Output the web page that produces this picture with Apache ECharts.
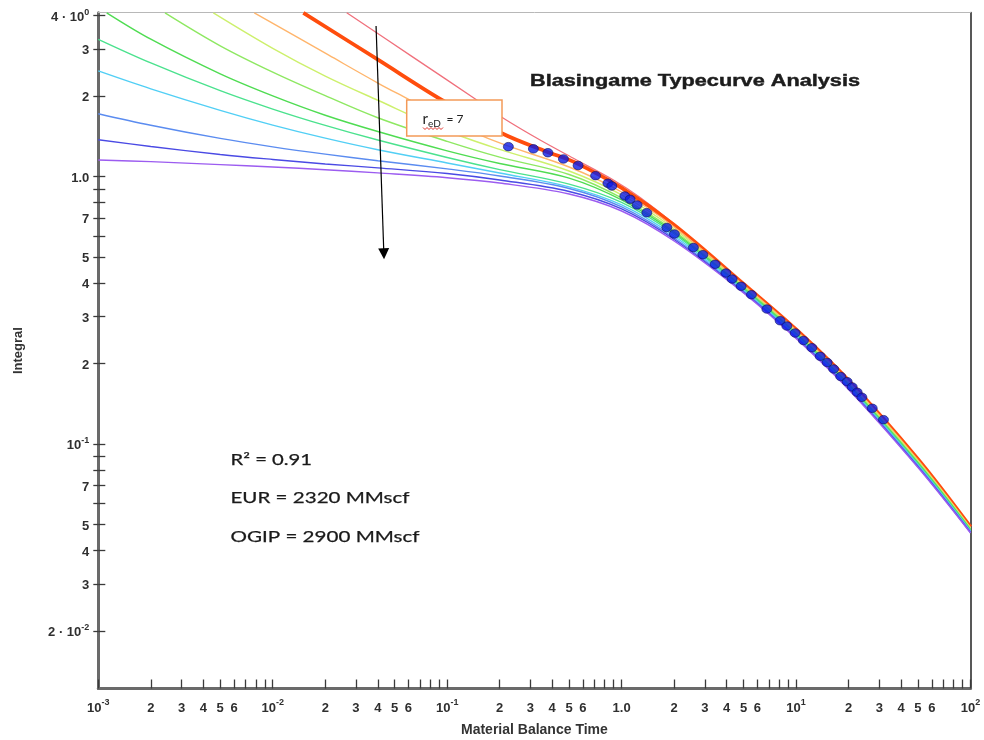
<!DOCTYPE html>
<html>
<head>
<meta charset="utf-8">
<title>Blasingame Typecurve Analysis</title>
<script src="https://cdn.jsdelivr.net/npm/echarts@6.0.0/dist/echarts.min.js"></script>
<style>
html,body{margin:0;padding:0;background:#ffffff;}
#chart{width:984px;height:740px;}
</style>
</head>
<body>
<div id="chart"></div>
<script>
// ---------------- axis ticks ----------------
const xTickValues = [0.001,0.002,0.003,0.004,0.005,0.006,0.007,0.008,0.009,
  0.01,0.02,0.03,0.04,0.05,0.06,0.07,0.08,0.09,
  0.1,0.2,0.3,0.4,0.5,0.6,0.7,0.8,0.9,
  1,2,3,4,5,6,7,8,9,
  10,20,30,40,50,60,70,80,90,100];
const xTickLabels = ['10^-3','2','3','4','5','6','','','',
  '10^-2','2','3','4','5','6','','','',
  '10^-1','2','3','4','5','6','','','',
  '1.0','2','3','4','5','6','','','',
  '10^1','2','3','4','5','6','','','',
  '10^2'];
const yTickValues = [4,3,2,1,0.9,0.8,0.7,0.6,0.5,0.4,0.3,0.2,0.1,0.09,0.08,0.07,0.06,0.05,0.04,0.03,0.02];
const yTickLabels = ['4 · 10^0','3','2','1.0','','','7','','5','4','3','2','10^-1','','','7','','5','4','3','2 · 10^-2'];
const xRange = [0.001, 100];
const yRange = [0.01219, 4.104];

// ---------------- type curves (family of r_eD stems) ----------------
const curveRed = [[0.02656,4.1],[0.0627,2.818],[0.1478,1.935],[0.2101,1.654],[0.3409,1.371],[0.5293,1.172],[0.8975,0.972],[1.277,0.836],[2,0.6654],[5,0.3970],[10,0.2683],[20,0.1729],[50,0.08782],[100,0.04898]];
const curveOrange = [[0.01498,4.1],[0.0403,2.732],[0.0931,1.936],[0.2056,1.453],[0.3724,1.240],[0.5293,1.138],[1,0.9073],[2,0.6597],[5,0.3970],[10,0.2683],[20,0.1729],[50,0.08782],[100,0.04898]];
const curveLightOrange = [[0.00784,4.1],[0.02084,2.852],[0.0403,2.235],[0.0587,1.961],[0.1,1.629],[0.2,1.337],[0.5,1.087],[1,0.8765],[2,0.6485],[5,0.3932],[10,0.2658],[20,0.1713],[50,0.08700],[100,0.04864]];
const curveYellowGreen = [[0.004566,4.1],[0.01,3.021],[0.02,2.378],[0.04,1.931],[0.1,1.482],[0.2,1.265],[0.5,1.050],[1,0.8544],[2,0.6374],[5,0.3892],[10,0.2630],[20,0.1695],[50,0.08625],[100,0.04835]];
const curveLightGreen = [[0.002412,4.1],[0.005,3.087],[0.01,2.461],[0.02,2.009],[0.04,1.661],[0.1,1.355],[0.2,1.183],[0.5,1.019],[1,0.8324],[2,0.6265],[5,0.3855],[10,0.2605],[20,0.1679],[50,0.08544],[100,0.04802]];
const curveGreen = [[0.001117,4.1],[0.002,3.267],[0.005,2.424],[0.01,2.005],[0.02,1.697],[0.04,1.475],[0.1,1.249],[0.2,1.120],[0.5,0.988],[1,0.8182],[2,0.6185],[5,0.3828],[10,0.2588],[20,0.1668],[50,0.08492],[100,0.04781]];
const curveMint = [[0.001,3.265],[0.002,2.664],[0.005,2.097],[0.01,1.790],[0.02,1.555],[0.04,1.371],[0.1,1.180],[0.2,1.063],[0.5,0.9375],[1,0.8008],[2,0.6105],[5,0.3802],[10,0.2570],[20,0.1656],[50,0.08434],[100,0.04756]];
const curveCyan = [[0.001,2.485],[0.002,2.130],[0.005,1.770],[0.01,1.559],[0.02,1.393],[0.04,1.261],[0.1,1.125],[0.2,1.032],[0.5,0.9159],[1,0.7837],[2,0.6001],[5,0.3763],[10,0.2543],[20,0.1639],[50,0.08354],[100,0.04728]];
const curveBlue = [[0.001,1.720],[0.002,1.557],[0.005,1.390],[0.01,1.293],[0.02,1.214],[0.04,1.147],[0.1,1.070],[0.2,1.006],[0.5,0.9034],[1,0.7704],[2,0.5899],[5,0.3728],[10,0.2519],[20,0.1624],[50,0.08283],[100,0.04695]];
const curveIndigo = [[0.001,1.375],[0.002,1.297],[0.005,1.211],[0.01,1.160],[0.02,1.116],[0.04,1.079],[0.1,1.028],[0.2,0.9720],[0.5,0.8803],[1,0.7572],[2,0.5823],[5,0.3699],[10,0.2500],[20,0.1611],[50,0.08226],[100,0.04671]];
const curveViolet = [[0.001,1.155],[0.002,1.138],[0.005,1.109],[0.01,1.087],[0.02,1.062],[0.04,1.033],[0.1,0.9914],[0.2,0.9472],[0.5,0.8616],[1,0.7441],[2,0.5748],[5,0.3673],[10,0.2483],[20,0.1600],[50,0.08169],[100,0.04651]];

// ---------------- measured data (material balance time, integral) ----------------
const dataTime = [0.2243,0.3121,0.3779,0.4638,0.5630,0.7093,0.8347,0.8787,1.043,1.119,1.227,1.395,1.816,2.008,2.580,2.922,3.436,3.959,4.301,4.844,5.550,6.802,8.103,8.855,9.881,11.03,12.32,13.75,15.08,16.43,18.02,19.63,20.98,22.40,23.84,27.32,31.70];
const dataIntegral = [1.295,1.271,1.229,1.165,1.101,1.009,0.9447,0.9231,0.8470,0.8231,0.7840,0.7334,0.6457,0.6104,0.5434,0.5108,0.4704,0.4362,0.4143,0.3892,0.3620,0.3200,0.2893,0.2764,0.2603,0.2440,0.2293,0.2130,0.2019,0.1910,0.1790,0.1712,0.1635,0.1562,0.1496,0.1361,0.1234];

// ---------------- annotations ----------------
const arrowStart = [0.03911, 3.661];
const arrowEnd = [0.04335, 0.5148];
const titleText = 'Blasingame Typecurve Analysis';
const statLines = ['R² = 0.91', 'EUR = 2320 MMscf', 'OGIP = 2900 MMscf'];
const reDLabel = ['r', 'eD', '= 7'];

const curveColors = {
  red: '#f0707c', orange: '#ff4d0d', lightOrange: '#ffb56c', yellowGreen: '#cdf06c',
  lightGreen: '#8ee862', green: '#4fdc52', mint: '#4be28e', cyan: '#52cff5',
  blue: '#5b8cf0', indigo: '#4a4ae4', violet: '#9c5cf0'
};

const seriesDefs = [
  ['Red', curveRed, curveColors.red, 1.3],
  ['Orange', curveOrange, curveColors.orange, 3.8],
  ['Light orange', curveLightOrange, curveColors.lightOrange, 1.4],
  ['Yellow green', curveYellowGreen, curveColors.yellowGreen, 1.4],
  ['Light green', curveLightGreen, curveColors.lightGreen, 1.4],
  ['Green', curveGreen, curveColors.green, 1.4],
  ['Mint', curveMint, curveColors.mint, 1.4],
  ['Cyan', curveCyan, curveColors.cyan, 1.4],
  ['Blue', curveBlue, curveColors.blue, 1.4],
  ['Indigo', curveIndigo, curveColors.indigo, 1.4],
  ['Violet', curveViolet, curveColors.violet, 1.4]
];

// ---------------- helpers ----------------
const lg = v => Math.log10(v);
function richLabel(label) {
  if (!label) return '';
  const i = label.indexOf('^');
  if (i < 0) return '{b|' + label + '}';
  return '{b|' + label.slice(0, i) + '}{s|' + label.slice(i + 1) + '}';
}
function makeFormatter(values, labels) {
  return function (val) {
    let best = -1, bd = 1e9;
    for (let i = 0; i < values.length; i++) {
      const d = Math.abs(lg(values[i]) - val);
      if (d < bd) { bd = d; best = i; }
    }
    return bd < 1e-6 ? richLabel(labels[best]) : '';
  };
}
const FONT = '"Liberation Sans", Arial, sans-serif';
const labelColor = '#2f2f2f';
const labelRich = {
  b: {fontSize: 13, fontWeight: 'bold', fontFamily: FONT, color: labelColor, verticalAlign: 'bottom', lineHeight: 16},
  s: {fontSize: 9, fontWeight: 'bold', fontFamily: FONT, color: labelColor, verticalAlign: 'top', lineHeight: 16}
};
const xLabeled = xTickValues.filter((v, i) => xTickLabels[i]);
const yLabeled = yTickValues.filter((v, i) => yTickLabels[i]);

const mctx = document.createElement('canvas').getContext('2d');
function textWidth(text, font) {
  mctx.font = font;
  return mctx.measureText(text).width;
}
const TITLE_FONT = 'bold 17px "Liberation Sans", Arial, sans-serif';
const titleScale = 330 / textWidth(titleText, TITLE_FONT);
const statTargets = [81.6, 179, 189];
const STAT_FONT = '15.5px Lato, "Open Sans", sans-serif';
const statScales = statLines.map((t, i) => statTargets[i] / textWidth(t, STAT_FONT));

// ---------------- chart ----------------
const chart = echarts.init(document.getElementById('chart'), null, {renderer: 'canvas'});

const series = seriesDefs.map(d => ({
  name: d[0], type: 'line', xAxisIndex: 0, yAxisIndex: 0,
  data: d[1], showSymbol: false, symbol: 'none', smooth: 0.35,
  lineStyle: {color: d[2], width: d[3]}, silent: true, animation: false, z: 2
}));
series.push({
  name: 'Data', type: 'scatter', xAxisIndex: 0, yAxisIndex: 0,
  data: dataTime.map((t, i) => [t, dataIntegral[i]]),
  symbol: 'circle', symbolSize: [10, 8.5],
  itemStyle: {color: '#0c1ce6', borderColor: '#121262', borderWidth: 0.8},
  z: 5, silent: true, animation: false,
  markLine: {
    silent: true, animation: false,
    symbol: ['none', 'triangle'], symbolSize: 11,
    lineStyle: {color: '#000000', width: 1.2, type: 'solid', opacity: 1},
    itemStyle: {color: '#000000'},
    label: {show: false},
    emphasis: {disabled: true},
    data: [[{coord: arrowStart}, {coord: arrowEnd}]]
  }
});

const tickLine = {color: '#3a3a3a', width: 1.3};
const option = {
  backgroundColor: '#ffffff',
  animation: false,
  grid: {left: 98.3, top: 12.7, right: 13.5, bottom: 51.5, outerBoundsMode: 'none', containLabel: false},
  xAxis: [
    {type: 'log', logBase: 10, min: xRange[0], max: xRange[1], show: false},
    {type: 'value', min: lg(xRange[0]), max: lg(xRange[1]), position: 'bottom',
      splitLine: {show: false},
      axisLine: {show: true, onZero: false, lineStyle: {color: '#6a6a6a', width: 3}},
      axisTick: {show: true, inside: true, length: 9, customValues: xTickValues.map(lg), lineStyle: tickLine},
      axisLabel: {show: true, customValues: xLabeled.map(lg), formatter: makeFormatter(xTickValues, xTickLabels),
        margin: 10, fontSize: 13, fontWeight: 'bold', fontFamily: FONT, color: labelColor, rich: labelRich},
      name: 'Material Balance Time', nameLocation: 'middle', nameGap: 35,
      nameTextStyle: {fontSize: 14, fontWeight: 'bold', fontFamily: FONT, color: '#333333'}},
    {type: 'value', min: lg(xRange[0]), max: lg(xRange[1]), position: 'top',
      splitLine: {show: false}, axisTick: {show: false}, axisLabel: {show: false},
      axisLine: {show: true, onZero: false, lineStyle: {color: '#b8b8b8', width: 1}}}
  ],
  yAxis: [
    {type: 'log', logBase: 10, min: yRange[0], max: yRange[1], show: false},
    {type: 'value', min: lg(yRange[0]), max: lg(yRange[1]), position: 'left',
      splitLine: {show: false},
      axisLine: {show: true, onZero: false, lineStyle: {color: '#6a6a6a', width: 3}},
      axisTick: {show: true, inside: false, length: 5, customValues: yTickValues.map(lg), lineStyle: tickLine},
      axisLabel: {show: true, customValues: yLabeled.map(lg), formatter: makeFormatter(yTickValues, yTickLabels),
        margin: 9, fontSize: 13, fontWeight: 'bold', fontFamily: FONT, color: labelColor, rich: labelRich},
      name: 'Integral', nameLocation: 'middle', nameGap: 73,
      nameTextStyle: {fontSize: 13, fontWeight: 'bold', fontFamily: FONT, color: '#333333'}},
    {type: 'value', min: lg(yRange[0]), max: lg(yRange[1]), position: 'left',
      splitLine: {show: false}, axisLine: {show: false, onZero: false}, axisLabel: {show: false},
      axisTick: {show: true, inside: true, length: 7, customValues: yTickValues.map(lg), lineStyle: tickLine}},
    {type: 'value', min: lg(yRange[0]), max: lg(yRange[1]), position: 'right',
      splitLine: {show: false}, axisTick: {show: false}, axisLabel: {show: false},
      axisLine: {show: true, onZero: false, lineStyle: {color: '#585858', width: 2}}}
  ],
  series: series,
  graphic: {elements: [
    {type: 'text', x: 530, y: 81, scaleX: titleScale, z: 100,
      style: {text: titleText, font: TITLE_FONT, fill: '#1c1c1c', stroke: '#1c1c1c', lineWidth: 0.45, align: 'left', verticalAlign: 'middle'}},
    {type: 'rect', z: 100, shape: {x: 406.7, y: 100, width: 95.3, height: 36},
      style: {fill: '#ffffff', stroke: '#f39a58', lineWidth: 1.5}},
    {type: 'text', x: 422.5, y: 119.5, z: 101,
      style: {text: reDLabel[0], font: '15px Lato, sans-serif', fill: '#222222', align: 'left', verticalAlign: 'middle'}},
    {type: 'text', x: 428, y: 123.5, z: 101,
      style: {text: reDLabel[1], font: '10px Lato, sans-serif', fill: '#222222', align: 'left', verticalAlign: 'middle'}},
    {type: 'text', x: 446.5, y: 119, z: 101,
      style: {text: reDLabel[2], font: '12px Lato, sans-serif', fill: '#222222', align: 'left', verticalAlign: 'middle'}},
    {type: 'polyline', z: 102,
      shape: {points: [[423,127.5],[425,129.5],[427,127.5],[429,129.5],[431,127.5],[433,129.5],[435,127.5],[437,129.5],[439,127.5],[441,129.5],[443,127.5]]},
      style: {stroke: '#e0302a', lineWidth: 1, fill: null}},
    {type: 'text', x: 230.5, y: 459.5, scaleX: statScales[0], z: 100,
      style: {text: statLines[0], font: STAT_FONT, fill: '#1a1a1a', stroke: '#1a1a1a', lineWidth: 0.25, align: 'left', verticalAlign: 'middle'}},
    {type: 'text', x: 230.5, y: 498, scaleX: statScales[1], z: 100,
      style: {text: statLines[1], font: STAT_FONT, fill: '#1a1a1a', stroke: '#1a1a1a', lineWidth: 0.25, align: 'left', verticalAlign: 'middle'}},
    {type: 'text', x: 230.5, y: 537, scaleX: statScales[2], z: 100,
      style: {text: statLines[2], font: STAT_FONT, fill: '#1a1a1a', stroke: '#1a1a1a', lineWidth: 0.25, align: 'left', verticalAlign: 'middle'}}
  ]}
};
chart.setOption(option);
</script>
</body>
</html>
